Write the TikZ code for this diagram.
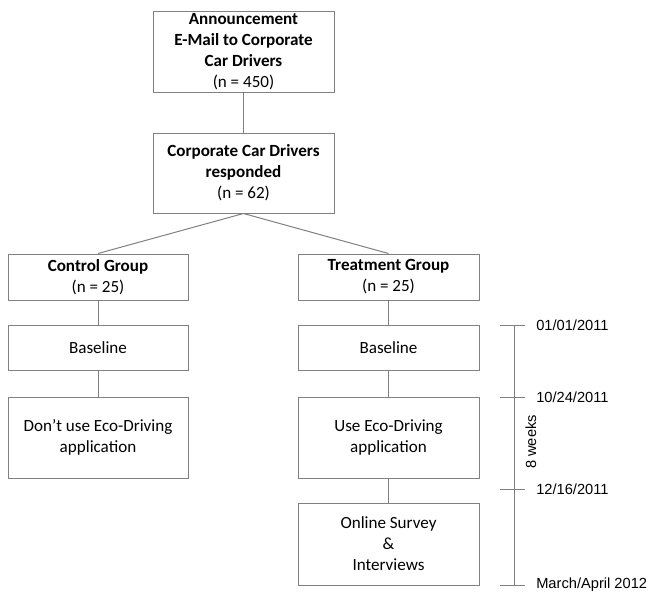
\documentclass[tikz,border=0pt]{standalone}
\usepackage{fontspec}
\setmainfont{Carlito}
\newfontfamily\datefont{Liberation Sans}
\usetikzlibrary{positioning}
\tikzstyle{stage}=[rectangle, draw=black!50, line width=0.75pt, align=center, inner sep=2pt, font=\fontsize{12.8}{15.75}\selectfont]
\tikzstyle{link}=[draw=black!50, line width=0.75pt]
\tikzstyle{datelabel}=[anchor=west, inner sep=0pt, font=\datefont\fontsize{11}{13}\selectfont]

\begin{document}
\begin{tikzpicture}[x=0.75pt, y=-0.75pt]
  \useasboundingbox (0,0) rectangle (650,592);

  % recruiting
  \node[stage, minimum width=135.75pt, minimum height=60pt] (mail) at (243.5,52)
        {\textbf{Announcement}\\ \textbf{E-Mail to Corporate}\\ \textbf{Car Drivers}\\ (n = 450)};
  \node[stage, minimum width=135.75pt, minimum height=60pt] (resp) at (243.5,173)
        {\textbf{Corporate Car Drivers}\\ \textbf{responded}\\ (n = 62)};

  % groups
  \node[stage, minimum width=135pt, minimum height=34.5pt] (ctrl) at (98,277)
        {\textbf{Control Group}\\ (n = 25)};
  \node[stage, minimum width=135.75pt, minimum height=34.5pt] (treat) at (388.5,277)
        {\textbf{Treatment Group}\\ (n = 25)};

  \node[stage, minimum width=135pt, minimum height=33.75pt] (ctrlbase) at (98,347.5) {Baseline};
  \node[stage, minimum width=135.75pt, minimum height=33.75pt] (treatbase) at (388.5,347.5) {Baseline};

  \node[stage, minimum width=135pt, minimum height=60.75pt] (noapp) at (98,437.5)
        {Don't use Eco-Driving\\ application};
  \node[stage, minimum width=135.75pt, minimum height=60.75pt] (app) at (388.5,437.5)
        {Use Eco-Driving\\ application};
  \node[stage, minimum width=135.75pt, minimum height=61.5pt] (survey) at (388.5,544)
        {Online Survey\\ \&\\ Interviews};

  \draw[link] (mail) -- (resp);
  \draw[link] (resp.south) -- (ctrl.north);
  \draw[link] (resp.south) -- (treat.north);
  \draw[link] (ctrl) -- (ctrlbase);
  \draw[link] (ctrlbase) -- (noapp);
  \draw[link] (treat) -- (treatbase);
  \draw[link] (treatbase) -- (app);
  \draw[link] (app) -- (survey);

  % timeline
  \foreach \n/\y in {a/325, b/397, c/489, d/585} {
    \coordinate (\n l) at (500,\y);
    \coordinate (\n r) at (525,\y);
    \draw[link] (\n l) -- (\n r);
  }
  \coordinate (axtop) at (514,325);
  \coordinate (axbot) at (514,585);
  \draw[link] (axtop) -- (axbot);

  \node[datelabel] (da) at (536,325) {01/01/2011};
  \node[datelabel] (db) at (536,397) {10/24/2011};
  \node[datelabel] (dc) at (536,489) {12/16/2011};
  \node[datelabel] (dd) at (536,585) {March/April 2012};
  \node[rotate=90, inner sep=0pt, font=\datefont\fontsize{11}{13}\selectfont] (weeks) at (531,442) {8 weeks};
\end{tikzpicture}
\end{document}
